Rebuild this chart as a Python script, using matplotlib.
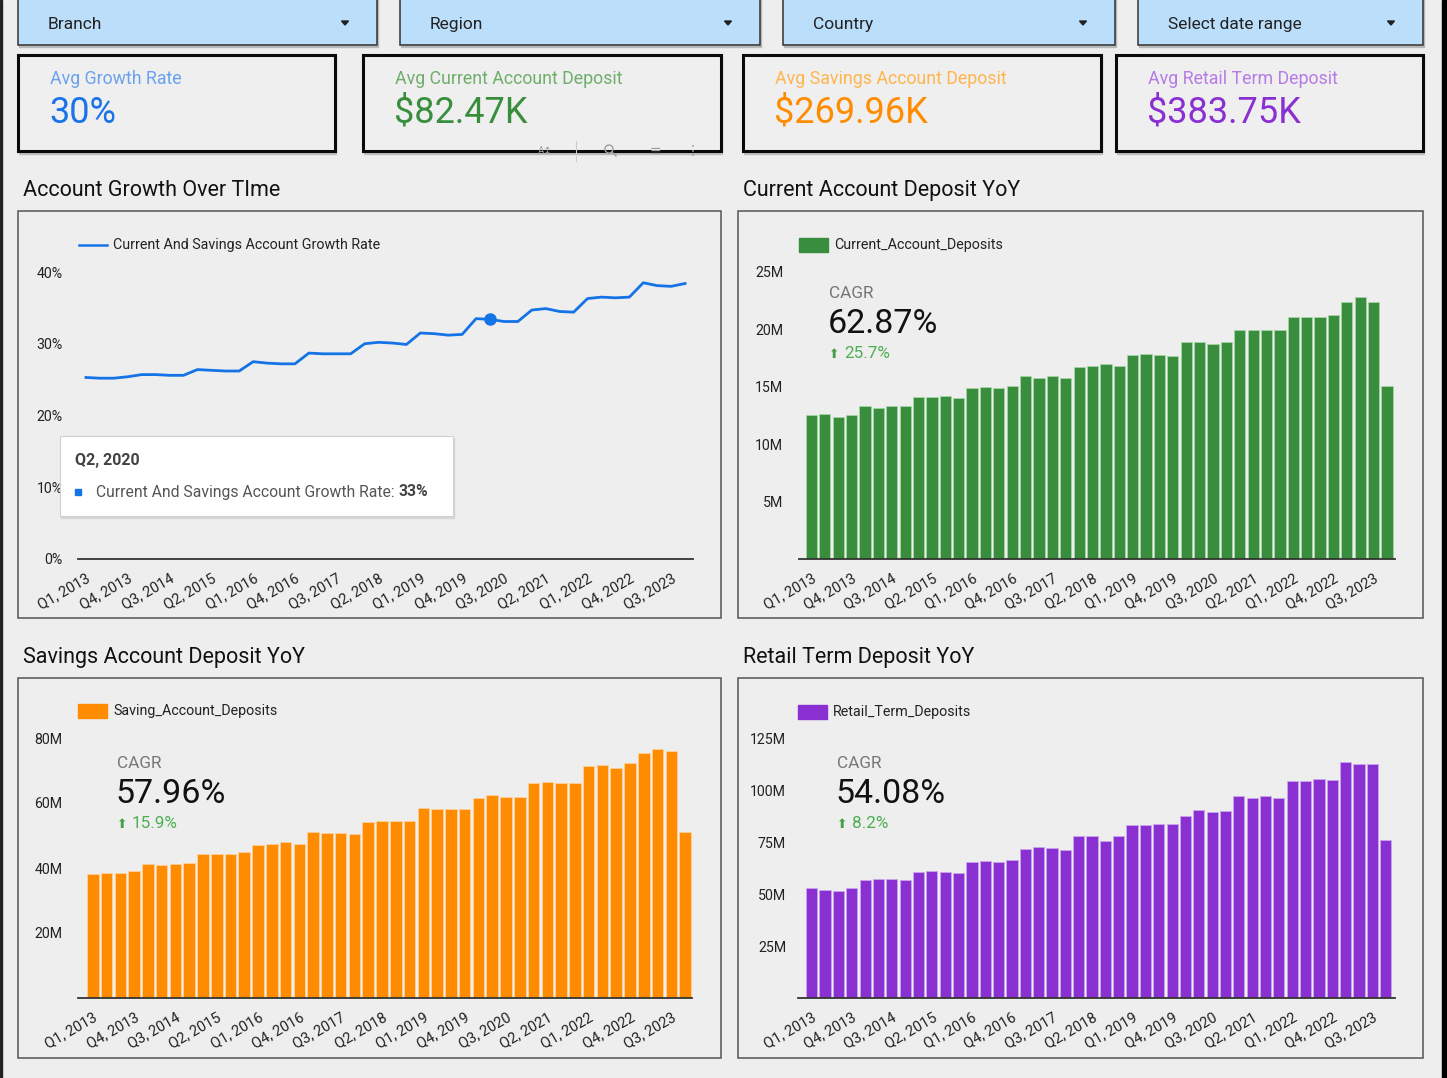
import matplotlib.pyplot as plt
from matplotlib.patches import Rectangle, Polygon, Circle

plt.rcParams['font.family'] = ['Roboto', 'DejaVu Sans']

W, H = 1447, 1078
BG = "#eeeeee"

# ---- data ----
tick_labels = ["Q1, 2013", "Q4, 2013", "Q3, 2014", "Q2, 2015", "Q1, 2016",
               "Q4, 2016", "Q3, 2017", "Q2, 2018", "Q1, 2019", "Q4, 2019",
               "Q3, 2020", "Q2, 2021", "Q1, 2022", "Q4, 2022", "Q3, 2023"]

growth_rate = [25.3, 25.2, 25.2, 25.4, 25.7, 25.7, 25.6, 25.6, 26.4, 26.3, 26.2,
               26.2, 27.5, 27.3, 27.2, 27.2, 28.7, 28.6, 28.6, 28.6, 30.0, 30.2,
               30.1, 29.9, 31.5, 31.4, 31.2, 31.3, 33.5, 33.4, 33.1, 33.1, 34.7,
               34.9, 34.5, 34.4, 36.3, 36.5, 36.4, 36.5, 38.5, 38.1, 38.0, 38.4]

current_deposits = [12.53, 12.65, 12.36, 12.53, 13.28, 13.17, 13.28, 13.28, 14.13,
                    14.13, 14.21, 14.01, 14.85, 14.97, 14.85, 15.06, 15.90, 15.78,
                    15.90, 15.78, 16.74, 16.82, 16.94, 16.82, 17.75, 17.87, 17.75,
                    17.67, 18.91, 18.91, 18.71, 18.91, 19.96, 19.96, 19.96, 19.96,
                    21.09, 21.09, 21.09, 21.20, 22.37, 22.77, 22.37, 15.06]

savings_deposits = [38.3, 38.6, 38.6, 39.0, 41.2, 40.8, 41.2, 41.6, 44.2, 44.2, 44.2,
                    44.9, 47.1, 47.4, 47.9, 47.4, 51.1, 50.7, 50.7, 50.4, 54.1, 54.4,
                    54.4, 54.4, 58.5, 58.1, 58.1, 58.1, 61.4, 62.4, 62.0, 62.0, 66.1,
                    66.5, 66.1, 66.1, 71.3, 71.6, 70.9, 72.4, 75.4, 76.5, 76.1, 51.0]

retail_deposits = [53.2, 52.3, 51.6, 53.2, 56.8, 57.4, 57.4, 56.8, 60.8, 61.4, 60.8,
                   60.1, 65.4, 66.1, 65.4, 66.6, 71.9, 73.0, 72.3, 71.2, 78.1, 78.1,
                   75.7, 78.1, 83.3, 83.3, 83.9, 83.9, 87.9, 90.8, 89.7, 90.2, 97.7,
                   96.6, 97.7, 96.6, 104.8, 104.8, 105.9, 105.3, 114.0, 112.9, 112.9, 76.4]

filters = ["Branch", "Region", "Country", "Select date range"]
kpi_labels = ["Avg Growth Rate", "Avg Current Account Deposit",
              "Avg Savings Account Deposit", "Avg Retail Term Deposit"]
kpi_values = ["30%", "$82.47K", "$269.96K", "$383.75K"]
cagr_values = ["62.87%", "57.96%", "54.08%"]
cagr_changes = ["25.7%", "15.9%", "8.2%"]

# ---- figure ----
fig = plt.figure(figsize=(W / 100, H / 100), dpi=100, facecolor=BG)

bg = fig.add_axes([0, 0, 1, 1], zorder=0)
bg.set_xlim(0, W)
bg.set_ylim(H, 0)
bg.axis("off")

top = fig.add_axes([0, 0, 1, 1], zorder=10)
top.set_xlim(0, W)
top.set_ylim(H, 0)
top.axis("off")
top.patch.set_alpha(0)


def fig_rect(x0, y0, x1, y1):
    return [x0 / W, 1 - y1 / H, (x1 - x0) / W, (y1 - y0) / H]


# side strips
bg.add_patch(Rectangle((0, 0), 2, H, color="#222222"))
bg.add_patch(Rectangle((1442, 0), 5, H, color="#000000"))

# filter dropdowns
filter_boxes = [(18, 377), (400, 760), (783, 1115), (1138, 1423)]
for (x0, x1), name in zip(filter_boxes, filters):
    bg.add_patch(Rectangle((x0 + 1, -2), x1 - x0, 49, color="#b8b8b8"))
    bg.add_patch(Rectangle((x0, -3), x1 - x0, 48, facecolor="#bbdefb",
                           edgecolor="#333333", lw=1.1))
    bg.text(x0 + 30, 29, name, fontsize=12.5, color="#222222", va="baseline")
    ax_ = x1 - 32
    bg.add_patch(Polygon([(ax_ - 3.5, 21), (ax_ + 3.5, 21), (ax_, 25)],
                         color="#222222"))

# KPI cards
kpi_boxes = [(18, 335), (363, 721), (743, 1101), (1116, 1423)]
kpi_label_colors = ["#6aa2f0", "#6fae6a", "#ffb54d", "#b57be6"]
kpi_value_colors = ["#1a73e8", "#388e3c", "#ff8c00", "#8a2fd1"]
for (x0, x1), lab, val, lc, vc in zip(kpi_boxes, kpi_labels, kpi_values,
                                      kpi_label_colors, kpi_value_colors):
    bg.add_patch(Rectangle((x0 + 1, 56), x1 - x0, 98, color="#bdbdbd"))
    bg.add_patch(Rectangle((x0, 55), x1 - x0, 96, facecolor="#efefef",
                           edgecolor="#0a0a0a", lw=2.2))
    bg.text(x0 + 32, 84, lab, fontsize=12.8, color=lc, va="baseline")
    bg.text(x0 + 31, 123, val, fontsize=26, color=vc, va="baseline")

# faint chart toolbar icons on card 2
top.text(545, 151, "A\u2195", fontsize=7, color="#9e9e9e", ha="center", va="center")
top.plot([576, 576], [141, 161], color="#cccccc", lw=0.8)
top.add_patch(Circle((609, 149), 4, fill=False, edgecolor="#9e9e9e", lw=1))
top.plot([612, 616], [152, 156], color="#9e9e9e", lw=1)
top.text(655, 151, "\u2261", fontsize=10, color="#9e9e9e", ha="center", va="center")
top.text(693, 151, "\u22ee", fontsize=10, color="#9e9e9e", ha="center", va="center")

# section titles and panels
titles = [(23, 196, "Account Growth Over TIme"), (743, 196, "Current Account Deposit YoY"),
          (23, 663, "Savings Account Deposit YoY"), (743, 663, "Retail Term Deposit YoY")]
for x, y, t in titles:
    bg.text(x, y, t, fontsize=15.5, color="#111111", va="baseline")

panels = [(18, 211, 721, 618), (738, 211, 1423, 618),
          (18, 678, 721, 1058), (738, 678, 1423, 1058)]
for x0, y0, x1, y1 in panels:
    bg.add_patch(Rectangle((x0, y0), x1 - x0, y1 - y0, facecolor="none",
                           edgecolor="#555555", lw=1.1))


def style_axes(ax, ypad):
    ax.set_facecolor("none")
    for s in ["top", "right", "left"]:
        ax.spines[s].set_visible(False)
    ax.spines["bottom"].set_color("#333333")
    ax.spines["bottom"].set_linewidth(1.3)
    ax.set_xticks(range(0, 44, 3))
    ax.set_xticklabels(tick_labels, rotation=30, ha="right",
                       rotation_mode="anchor", fontsize=10.5, color="#222222")
    ax.tick_params(axis="x", length=0, pad=9)
    ax.tick_params(axis="y", length=0, pad=ypad, labelsize=10.2, labelcolor="#222222")


x_idx = list(range(len(growth_rate)))

# line chart
ax1 = fig.add_axes(fig_rect(78, 262, 693, 559), zorder=2)
ax1.plot(x_idx, growth_rate, color="#1473e6", lw=2, solid_joinstyle="round")
ax1.plot(29, growth_rate[29], "o", color="#1473e6", ms=8)
ax1.set_xlim(-0.57, 43.57)
ax1.set_ylim(0, (559 - 262) / 7.175)
ax1.set_yticks([0, 10, 20, 30, 40])
ax1.set_yticklabels(["0%", "10%", "20%", "30%", "40%"])
style_axes(ax1, 11)

# bar charts
bar_specs = [
    (798.5, 1395, 250, 559, 11.49, -0.97, 43.6, current_deposits, "#388e3c", "#a5d6a7",
     [5, 10, 15, 20, 25], 11),
    (78, 692, 728, 998, 3.25, -1.07, 43.5, savings_deposits, "#ff8c00", "#ffd199",
     [20, 40, 60, 80], 11),
    (798, 1395, 728, 998, 2.072, -1.03, 43.7, retail_deposits, "#8a2fd1", "#c9a6ee",
     [25, 50, 75, 100, 125], 8.5),
]
for x0, x1, ytop, base, ppm, xlo, xhi, vals, col, edge, yt, ypad in bar_specs:
    ax = fig.add_axes(fig_rect(x0, ytop, x1, base), zorder=2)
    ax.bar(x_idx, vals, width=0.84, color=col, edgecolor=edge, lw=0.6)
    ax.set_xlim(xlo, xhi)
    ax.set_ylim(0, (base - ytop) / ppm)
    ax.set_yticks(yt)
    ax.set_yticklabels([f"{v}M" for v in yt])
    style_axes(ax, ypad)

# legends
top.plot([79, 107], [245, 245], color="#1473e6", lw=1.8)
top.text(113, 245, "Current And Savings Account Growth Rate", fontsize=10.3,
         color="#222222", va="center")
legend_specs = [(799, 245, "#388e3c", "Current_Account_Deposits"),
                (78, 711, "#ff8c00", "Saving_Account_Deposits"),
                (798, 712, "#8a2fd1", "Retail_Term_Deposits")]
for x, y, c, t in legend_specs:
    top.add_patch(Rectangle((x, y - 7), 29, 14, color=c))
    top.text(x + 35, y, t, fontsize=10.3, color="#222222", va="center")

# CAGR scorecards
cagr_pos = [(829, 294), (117, 764), (837, 764)]
for (x, y), v, ch in zip(cagr_pos, cagr_values, cagr_changes):
    top.text(x, y, "CAGR", fontsize=12.3, color="#757575", va="center")
    top.text(x - 1, y + 30, v, fontsize=24.5, color="#111111", va="center")
    top.text(x, y + 61, "\u2b06", fontsize=9, color="#43a047", va="center")
    top.text(x + 15, y + 60, ch, fontsize=12.3, color="#4caf50", va="center")

# tooltip
top.add_patch(Rectangle((61, 438), 393, 80, color="#d6d6d6"))
top.add_patch(Rectangle((60, 436), 393, 80, facecolor="white",
                        edgecolor="#d0d0d0", lw=0.8))
top.text(75, 460, "Q2, 2020", fontsize=11.5, fontweight="bold",
         color="#424242", va="center")
top.add_patch(Rectangle((75, 489), 6, 6, color="#1473e6"))
t1 = top.text(96, 492, "Current And Savings Account Growth Rate: ", fontsize=11.3,
              color="#555555", va="center")
fig.canvas.draw()
bb = t1.get_window_extent(fig.canvas.get_renderer())
top.text(bb.x1, 492, "33%", fontsize=11.3, fontweight="bold", color="#444444",
         va="center")

fig.savefig("out.png", dpi=100, facecolor=BG)
